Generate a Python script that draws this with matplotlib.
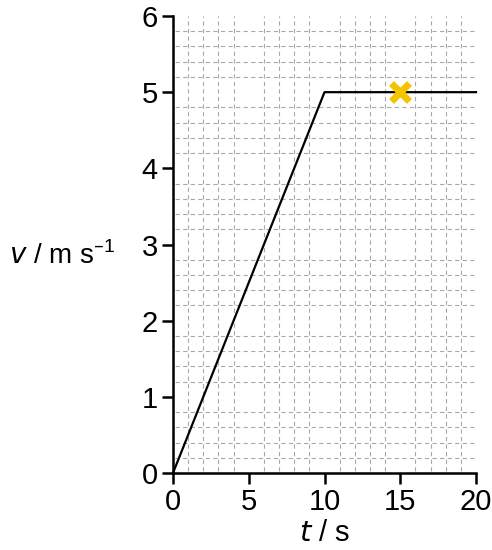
import numpy as np
import matplotlib.pyplot as plt

plt.rcParams['font.family'] = ['Liberation Sans', 'DejaVu Sans']

# velocity-time data
t = [0, 10, 20]
v = [0, 5, 5]
cross_t = [15]
cross_v = [5]

fig = plt.figure(figsize=(4.92, 5.5), dpi=100)
ax = fig.add_axes([173/492, 1 - 473/550, 303/492, 457/550])

ax.set_xlim(0, 20)
ax.set_ylim(0, 6)

# fine graph-paper grid, dashes centred on the crossings
ax.set_xticks(np.arange(0, 21, 1), minor=True)
ax.set_yticks(np.arange(0, 6.01, 0.2), minor=True)
ax.grid(which='minor', color='#a8a8a8', linestyle=(4.9, (3.8, 3.0)), linewidth=0.8)
ax.set_xticks([0, 5, 10, 15, 20])
ax.set_yticks([0, 1, 2, 3, 4, 5, 6])
ax.tick_params(which='minor', length=0)
ax.tick_params(which='major', direction='out', length=8, width=1.8, labelsize=21, pad=3)
ax.set_axisbelow(True)

for side in ['top', 'right']:
    ax.spines[side].set_visible(False)
for side in ['left', 'bottom']:
    ax.spines[side].set_linewidth(1.8)

ax.plot(t, v, color='black', linewidth=1.6, clip_on=False)
ax.plot(cross_t, cross_v, marker='x', markersize=13, markeredgewidth=5,
        color='#f5c400', linestyle='none')

ax.set_xlabel(r'$\it{t}$ / s', fontsize=21, labelpad=2)
ax.set_ylabel('$\\it{v}$ / m s$^{\\mathregular{–1}}$', fontsize=20, rotation=0,
              ha='right', va='center')
ax.yaxis.set_label_coords(-0.19, 0.475)

plt.savefig('out.png', dpi=100)
